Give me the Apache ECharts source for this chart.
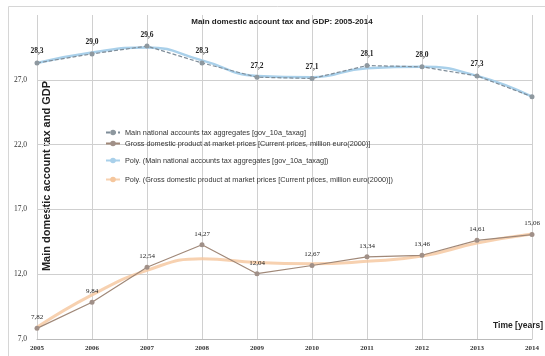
<!DOCTYPE html>
<html><head><meta charset="utf-8">
<script src="https://cdn.jsdelivr.net/npm/echarts@6/dist/echarts.min.js"></script>
<style>html,body{margin:0;padding:0;background:#fff}#c{width:545px;height:356px}</style>
</head><body><div id="c"></div>
<script>
const years = ['2005','2006','2007','2008','2009','2010','2011','2012','2013','2014'];
const taxValues = [28.3, 29.0, 29.6, 28.3, 27.2, 27.1, 28.1, 28.0, 27.3, 25.7];
const taxLabelShown = [true, true, true, true, true, true, true, true, true, false];
const gdpValues = [7.82, 9.84, 12.54, 14.27, 12.04, 12.67, 13.34, 13.46, 14.61, 15.06];
const taxTrend = [28.3, 29.1, 29.5, 28.5, 27.3, 27.2, 27.9, 28.0, 27.3, 25.7];
const gdpTrend = [7.9, 10.4, 12.3, 13.2, 12.9, 12.8, 13.0, 13.4, 14.4, 15.1];
const yTicks = [7, 12, 17, 22, 27, 32];
const names = [
  'Main national accounts tax aggregates [gov_10a_taxag]',
  'Gross domestic product at market prices [Current prices, million euro(2000)]',
  'Poly. (Main national accounts tax aggregates [gov_10a_taxag])',
  'Poly. (Gross domestic product at market prices [Current prices, million euro(2000)])'
];
const fmt = (v, d) => v.toFixed(d).replace('.', ',');
const chart = echarts.init(document.getElementById('c'));
const legendTops = [124, 135, 152, 171];
chart.setOption({
  animation: false,
  title: {
    text: 'Main domestic account tax and GDP: 2005-2014',
    left: 277, top: 13, textAlign: 'center',
    textStyle: {fontSize: 8, fontWeight: 'bold', color: '#222', fontFamily: 'Liberation Sans'}
  },
  legend: names.map((n, i) => ({
    data: [n], left: 100, top: legendTops[i], orient: 'vertical',
    itemWidth: 14, itemHeight: 7, itemGap: 2,
    textStyle: {fontSize: 7.3, color: '#333', fontFamily: 'Liberation Sans'}
  })),
  grid: {left: 37, right: 13, top: 15, bottom: 17},
  xAxis: {
    type: 'category', data: years, boundaryGap: false,
    axisLine: {show: true, lineStyle: {color: '#bbb'}},
    axisTick: {show: false},
    axisLabel: {fontSize: 7, color: '#333', fontWeight: 'bold', margin: 6, fontFamily: 'Liberation Serif'},
    splitLine: {show: true, lineStyle: {color: '#d0d0d0'}}
  },
  yAxis: {
    type: 'value', min: yTicks[0], max: yTicks[yTicks.length - 1], interval: 5,
    axisLine: {show: false}, axisTick: {show: false},
    axisLabel: {fontSize: 7.5, color: '#333', margin: 10, showMaxLabel: false,
      fontFamily: 'Liberation Serif', formatter: v => fmt(v, 1)},
    splitLine: {show: true, showMaxLine: false, lineStyle: {color: '#cfcfcf'}}
  },
  graphic: [
    {type: 'rect', shape: {x: 8.5, y: 6.5, width: 540, height: 352}, style: {fill: 'none', stroke: '#d6d6d6', lineWidth: 1}, silent: true},
    {type: 'text', x: 47, y: 176, rotation: Math.PI / 2,
      style: {text: 'Main domestic account tax and GDP', fontSize: 11, fontWeight: 'bold', fill: '#222',
        fontFamily: 'Liberation Sans', align: 'center', verticalAlign: 'middle'}},
    {type: 'text', right: 2, top: 321,
      style: {text: 'Time [years]', fontSize: 8.5, fontWeight: 'bold', fill: '#222', fontFamily: 'Liberation Sans'}}
  ],
  series: [
    {
      name: names[2], type: 'line', data: taxTrend, smooth: true, symbol: 'none',
      lineStyle: {color: '#a9d0ea', width: 2.5}, itemStyle: {color: '#a9d0ea'}, z: 1
    },
    {
      name: names[3], type: 'line', data: gdpTrend, smooth: true, symbol: 'none',
      lineStyle: {color: '#f5c69c', width: 3, opacity: 0.8}, itemStyle: {color: '#f5c69c'}, z: 1
    },
    {
      name: names[0], type: 'line', data: taxValues, symbol: 'circle', symbolSize: 5,
      lineStyle: {color: '#7f8d99', width: 1.2, type: [4, 2]}, itemStyle: {color: '#8e989f'}, z: 3,
      label: {show: true, position: 'top', distance: 5, fontSize: 7.5, fontWeight: 'bold', color: '#222',
        fontFamily: 'Liberation Serif',
        formatter: p => taxLabelShown[p.dataIndex] ? fmt(p.value, 1) : ''}
    },
    {
      name: names[1], type: 'line', data: gdpValues, symbol: 'circle', symbolSize: 5,
      lineStyle: {color: '#a08878', width: 1.2}, itemStyle: {color: '#a09088'}, z: 3,
      label: {show: true, position: 'top', distance: 5, fontSize: 7, color: '#222',
        fontFamily: 'Liberation Serif', formatter: p => fmt(p.value, 2)}
    }
  ]
});
</script></body></html>
